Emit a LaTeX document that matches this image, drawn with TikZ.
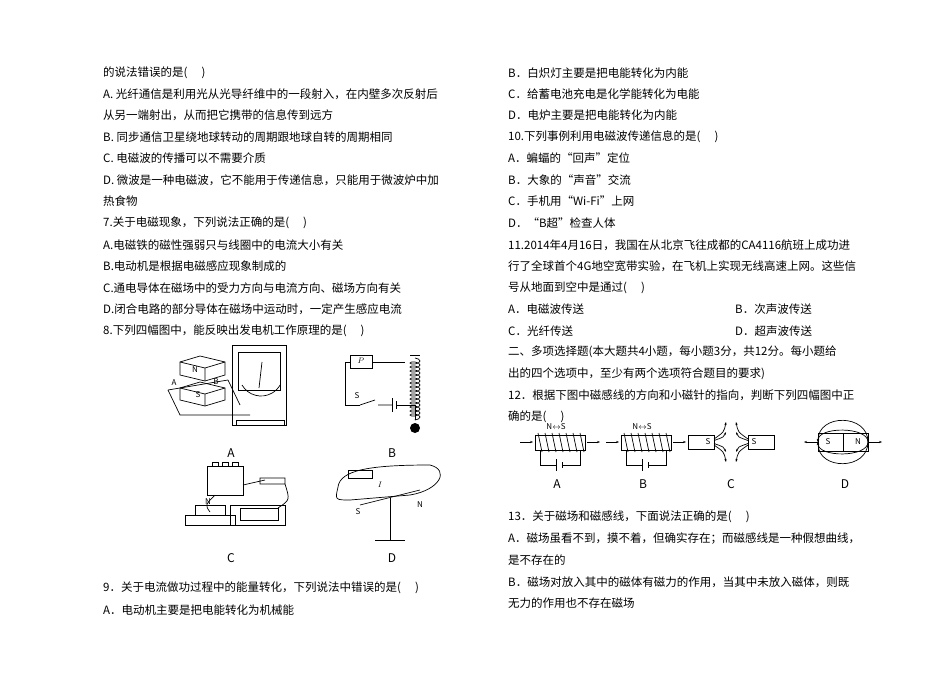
\documentclass[tikz,border=0pt]{standalone}
\usepackage{fontspec}
\setmainfont{Noto Sans CJK SC}
\usetikzlibrary{arrows.meta,decorations.pathmorphing}
\begin{document}
\begin{tikzpicture}[x=1pt,y=-1pt,
 txt/.style={anchor=west,inner sep=0pt,font=\fontsize{11.5}{12}\selectfont},
 lab/.style={inner sep=0pt,font=\fontsize{12}{12}\selectfont},
 sm/.style={inner sep=0pt,font=\fontsize{8}{8}\selectfont},
 fig/.style={line width=0.7pt}]
\useasboundingbox[fill=white] (0,0) rectangle (950,672);
% left column
\node[txt] (l1) at (103,73) {的说法错误的是(\quad\ )};
\node[txt] (l2) at (103,94) {A. 光纤通信是利用光从光导纤维中的一段射入，在内壁多次反射后};
\node[txt] (l3) at (103,115) {从另一端射出，从而把它携带的信息传到远方};
\node[txt] (l4) at (103,137) {B. 同步通信卫星绕地球转动的周期跟地球自转的周期相同};
\node[txt] (l5) at (103,158) {C. 电磁波的传播可以不需要介质};
\node[txt] (l6) at (103,180) {D. 微波是一种电磁波，它不能用于传递信息，只能用于微波炉中加};
\node[txt] (l7) at (103,201) {热食物};
\node[txt] (l8) at (103,223) {7.关于电磁现象，下列说法正确的是(\quad\ )};
\node[txt] (l9) at (103,245) {A.电磁铁的磁性强弱只与线圈中的电流大小有关};
\node[txt] (l10) at (103,266) {B.电动机是根据电磁感应现象制成的};
\node[txt] (l11) at (103,288) {C.通电导体在磁场中的受力方向与电流方向、磁场方向有关};
\node[txt] (l12) at (103,309) {D.闭合电路的部分导体在磁场中运动时，一定产生感应电流};
\node[txt] (l13) at (103,331) {8.下列四幅图中，能反映出发电机工作原理的是(\quad\ )};
\node[txt] (l14) at (103,588) {9．关于电流做功过程中的能量转化，下列说法中错误的是(\quad\ )};
\node[txt] (l15) at (103,610) {A．电动机主要是把电能转化为机械能};
% figure 8 labels
\node[lab] (fa) at (231,453) {A};
\node[lab] (fb) at (392,453) {B};
\node[lab] (fc) at (231,558) {C};
\node[lab] (fd) at (392,558) {D};
% fig A
\begin{scope}[fig]
\draw (180,362) -- (200,356) -- (225,362) -- (225,375) -- (205,381) -- (180,375) -- cycle;
\draw (180,362) -- (205,368) -- (225,362) (205,368) -- (205,381);
\node[sm] (an) at (195,370) {N};
\draw (180,388) -- (200,382) -- (225,388) -- (225,400) -- (205,406) -- (180,400) -- cycle;
\draw (180,388) -- (205,394) -- (225,388) (205,394) -- (205,406);
\node[sm] (as) at (198,395) {S};
\node[sm] (aa) at (174,383) {A};
\node[sm] (ab) at (216,382) {B};
\draw (168,390) -- (228,380);
\draw (228,380) -- (240,405) (168,390) -- (180,415) -- (250,415);
\draw (232,345) rectangle (286,425);
\draw (238,352) rectangle (280,390);
\draw (242,385) arc (150:30:22);
\draw (259,388) -- (262,362);
\draw (236,425) rectangle (284,420);
\end{scope}
% fig B
\begin{scope}[fig]
\draw (350,355) rectangle (372,368); \node[sm] (bp) at (361,361) {$P$};
\draw (372,362) -- (405,362) (350,362) -- (345,362) -- (345,405) -- (360,405);
\node[sm] (bs) at (357,396) {S};
\draw (360,405) -- (375,400) (378,405) -- (392,405);
\draw (392,398) -- (392,412) (396,401) -- (396,409) (396,405) -- (415,405) -- (415,420);
\draw (410,355) -- (420,355);
\draw[decorate,decoration={coil,aspect=0.4,segment length=4pt,amplitude=5pt}] (415,358) -- (415,420);
\fill (415,428) circle (5);
\end{scope}
% fig C
\begin{scope}[fig]
\draw (207,466) rectangle (243,495);
\foreach \x in {212,222,232} \draw (\x,462) rectangle (\x+6,466);
\draw (243,485) -- (265,480) (260,478) rectangle (285,484);
\node[sm] (cn) at (208,502) {N};
\draw (185,515) rectangle (235,525); \draw (195,505) rectangle (225,515);
\draw (215,495) .. controls (205,505) .. (210,512);
\draw (230,505) rectangle (285,525);
\draw (240,508) rectangle (278,520);
\draw (285,484) .. controls (290,500) .. (278,508);
\end{scope}
% fig D
\begin{scope}[fig]
\draw (338,487) .. controls (340,470) and (370,465) .. (430,465) .. controls (450,470) and (440,490) .. (410,495) -- (350,500) .. controls (335,500) .. (338,487);
\draw (348,470) rectangle (372,478);
\node[sm] (di) at (380,485) {$I$};
\draw (360,505) -- (420,490);
\draw (390,498) -- (390,540) (375,540) -- (405,540);
\node[sm] (ds) at (358,512) {S};
\node[sm] (dn) at (420,505) {N};
\end{scope}
% right column
\node[txt] (r1) at (508,73) {B．白炽灯主要是把电能转化为内能};
\node[txt] (r2) at (508,94) {C．给蓄电池充电是化学能转化为电能};
\node[txt] (r3) at (508,115) {D．电炉主要是把电能转化为内能};
\node[txt] (r4) at (508,137) {10.下列事例利用电磁波传递信息的是(\quad\ )};
\node[txt] (r5) at (508,158) {A．蝙蝠的“回声”定位};
\node[txt] (r6) at (508,180) {B．大象的“声音”交流};
\node[txt] (r7) at (508,201) {C．手机用“Wi-Fi”上网};
\node[txt] (r8) at (508,223) {D．“B超”检查人体};
\node[txt] (r9) at (508,245) {11.2014年4月16日，我国在从北京飞往成都的CA4116航班上成功进};
\node[txt] (r10) at (508,266) {行了全球首个4G地空宽带实验，在飞机上实现无线高速上网。这些信};
\node[txt] (r11) at (508,288) {号从地面到空中是通过(\quad\ )};
\node[txt] (r12) at (508,309) {A．电磁波传送};
\node[txt] (r12b) at (735,309) {B．次声波传送};
\node[txt] (r13) at (508,331) {C．光纤传送};
\node[txt] (r13b) at (735,331) {D．超声波传送};
\node[txt] (r14) at (508,352) {二、多项选择题(本大题共4小题，每小题3分，共12分。每小题给};
\node[txt] (r15) at (508,374) {出的四个选项中，至少有两个选项符合题目的要求)};
\node[txt] (r16) at (508,395) {12．根据下图中磁感线的方向和小磁针的指向，判断下列四幅图中正};
\node[txt] (r17) at (508,417) {确的是(\quad\ )};
\node[txt] (r18) at (508,517) {13．关于磁场和磁感线，下面说法正确的是(\quad\ )};
\node[txt] (r19) at (508,539) {A．磁场虽看不到，摸不着，但确实存在；而磁感线是一种假想曲线，};
\node[txt] (r20) at (508,560) {是不存在的};
\node[txt] (r21) at (508,582) {B．磁场对放入其中的磁体有磁力的作用，当其中未放入磁体，则既};
\node[txt] (r22) at (508,603) {无力的作用也不存在磁场};
% figure 12 labels
\node[lab] (ga) at (557,484) {A};
\node[lab] (gb) at (643,484) {B};
\node[lab] (gc) at (731,484) {C};
\node[lab] (gd) at (845,484) {D};
\begin{scope}[fig,yshift=-5pt]
\foreach \ox in {0,86}{
 \draw (535+\ox,430) rectangle (585+\ox,445);
 \foreach \k in {0,...,6} \draw (538+\ox+7*\k,428) -- (542+\ox+7*\k,447);
 \draw (540+\ox,445) -- (540+\ox,460) -- (556+\ox,460) (562+\ox,460) -- (580+\ox,460) -- (580+\ox,445);
 \draw (556+\ox,454) -- (556+\ox,466) (562+\ox,457) -- (562+\ox,463);
 \draw[-{Stealth[length=3pt]}] (520+\ox,437) -- (533+\ox,437);
 \draw[-{Stealth[length=3pt]}] (587+\ox,437) -- (600+\ox,437);
}
\node[sm] (gan) at (556,422) {N$\leftrightarrow$S};
\node[sm] (gbn) at (642,422) {N$\leftrightarrow$S};
\draw (688,430) rectangle (714,444); \node[sm] (gcs) at (708,437) {S};
\draw (748,430) rectangle (774,444); \node[sm] (gcs2) at (754,437) {S};
\foreach \d in {-10,-5,5,10} {
 \draw[-{Stealth[length=3pt]}] (714,437+\d*0.3) .. controls (724,437+\d) .. (726,437+\d*2);
 \draw[-{Stealth[length=3pt]}] (748,437+\d*0.3) .. controls (738,437+\d) .. (736,437+\d*2);
}
\draw (818,428) rectangle (868,446);
\node[sm] (gds) at (828,437) {S}; \node[sm] (gdn) at (858,437) {N};
\draw (843,428) -- (843,446);
\foreach \h in {12,22} {
 \draw[{Stealth[length=3pt]}-] (818,437) .. controls (818,437-\h*1.3) and (868,437-\h*1.3) .. (868,437);
 \draw[{Stealth[length=3pt]}-] (818,437) .. controls (818,437+\h*1.3) and (868,437+\h*1.3) .. (868,437);
}
\draw[-{Stealth[length=3pt]}] (868,437) -- (882,437);
\draw[{Stealth[length=3pt]}-] (804,437) -- (818,437);
\end{scope}
\end{tikzpicture}
\end{document}
